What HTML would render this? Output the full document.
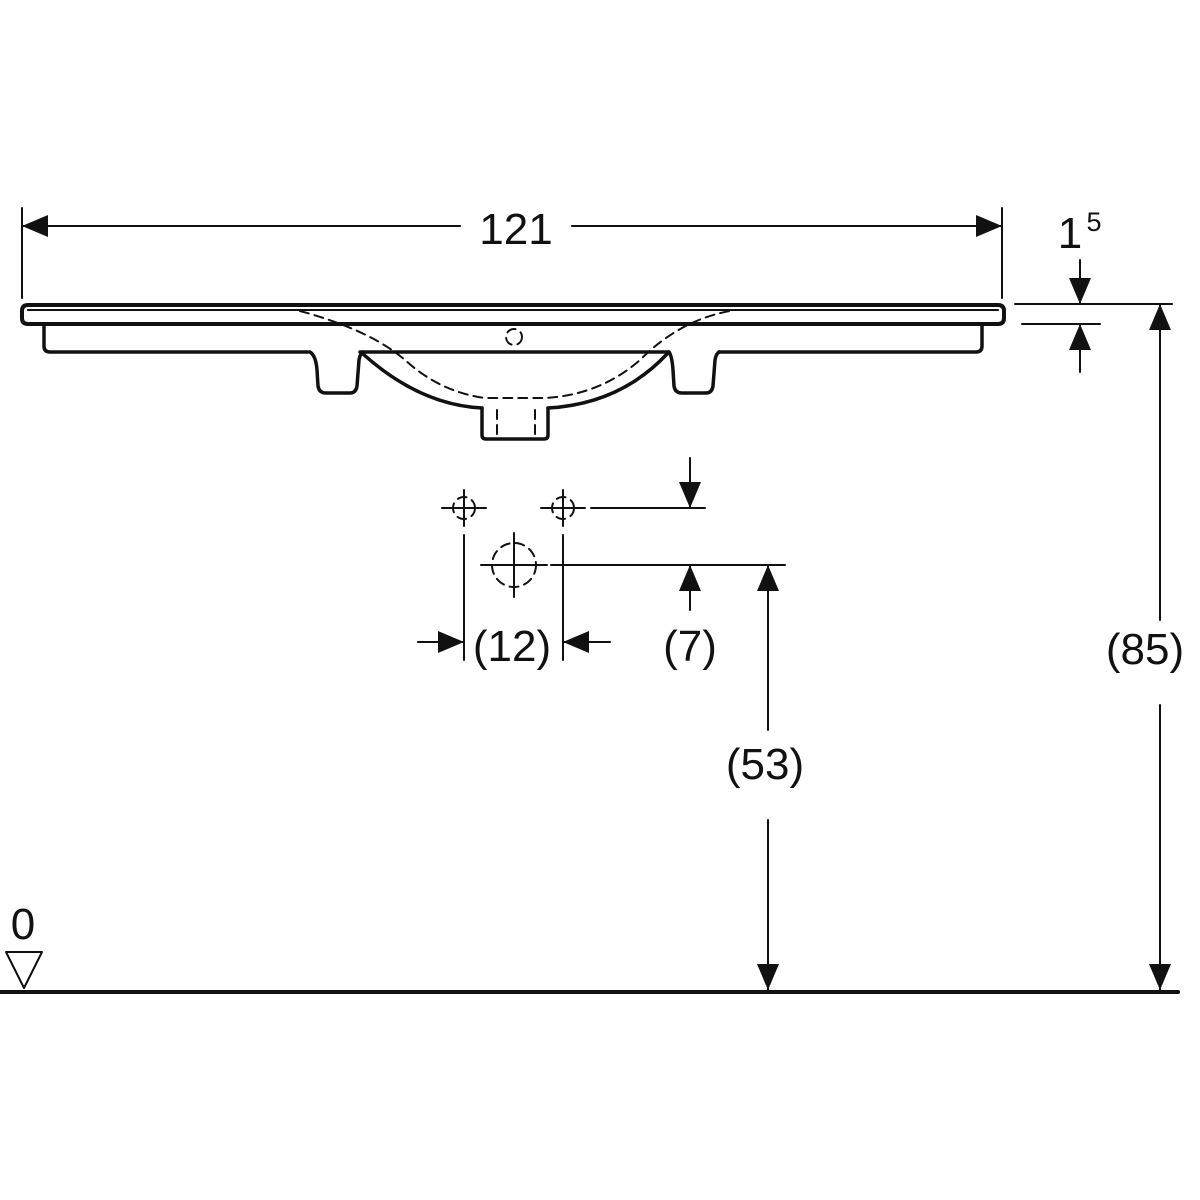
<!DOCTYPE html>
<html><head><style>body{margin:0;background:#fff}svg{display:block}text{font-family:"Liberation Sans",sans-serif;fill:#111}</style></head>
<body>
<svg width="1200" height="1200" viewBox="0 0 1200 1200" xmlns="http://www.w3.org/2000/svg">
<defs>
<marker id="a" viewBox="0 0 26 22" refX="26" refY="11" markerWidth="26" markerHeight="22" markerUnits="userSpaceOnUse" orient="auto"><path d="M0,0L26,11L0,22z" fill="#111"/></marker>
</defs>
<g stroke="#111" fill="none" stroke-linecap="round" stroke-linejoin="round">
<path d="M28,305 H998 Q1004,305 1004,311 V318 Q1004,324 998,324 H28 Q22,324 22,318 V311 Q22,305 28,305 Z" stroke-width="4"/>
<line x1="28" y1="310" x2="998" y2="310" stroke-width="2"/>
<path d="M44,324 V346 Q44,352 50,352 H308" stroke-width="3.5"/>
<path d="M982,324 V346 Q982,352 976,352 H719" stroke-width="3.5"/>
<path d="M360,352 H669" stroke-width="3.5"/>
<path d="M310,352 Q316,356 317,370 L318,386 Q319,393 326,393 H350 Q356,393 357,386 L359,360 Q360,354 363,352" stroke-width="3.5"/>
<path d="M669,352 Q672,356 673,370 L674,386 Q675,393 682,393 H706 Q712,393 713,386 L715,360 Q716,354 719,352" stroke-width="3.5"/>
<path d="M363,354 Q420,405 482,408 M548,408 Q620,404 667,354" stroke-width="3.5"/>
<path d="M482,408 V435 Q482,439 486,439 H544 Q548,439 548,435 V408" stroke-width="3.5"/>
<g stroke-dasharray="9,6" stroke-width="2">
<path d="M300,311 Q370,330 405,360 Q440,392 485,398 H545 Q600,395 640,360 Q680,320 730,311"/>
<line x1="497" y1="410" x2="497" y2="436"/><line x1="535" y1="410" x2="535" y2="436"/>
<circle cx="514" cy="337" r="8"/>
<circle cx="514" cy="565" r="22"/>
<circle cx="464" cy="508" r="11"/><circle cx="563" cy="508" r="11"/>
</g>
<g stroke-width="2">
<line x1="442" y1="508" x2="486" y2="508"/><line x1="464" y1="490" x2="464" y2="526"/>
<line x1="541" y1="508" x2="585" y2="508"/><line x1="563" y1="490" x2="563" y2="526"/>
<line x1="481" y1="565" x2="547" y2="565"/><line x1="514" y1="533" x2="514" y2="597"/>
<line x1="464" y1="535" x2="464" y2="660"/><line x1="563" y1="535" x2="563" y2="660"/>
<line x1="551" y1="565" x2="785" y2="565"/>
<line x1="591" y1="508" x2="705" y2="508"/>
<line x1="690" y1="458" x2="690" y2="508" marker-end="url(#a)"/>
<line x1="690" y1="610" x2="690" y2="565" marker-end="url(#a)"/>
<line x1="418" y1="642" x2="464" y2="642" marker-end="url(#a)"/>
<line x1="610" y1="642" x2="563" y2="642" marker-end="url(#a)"/>
<line x1="768" y1="730" x2="768" y2="565" marker-end="url(#a)"/>
<line x1="768" y1="820" x2="768" y2="990" marker-end="url(#a)"/>
<line x1="22" y1="208" x2="22" y2="298"/><line x1="1002" y1="208" x2="1002" y2="298"/>
<line x1="460" y1="226" x2="22" y2="226" marker-end="url(#a)"/>
<line x1="572" y1="226" x2="1002" y2="226" marker-end="url(#a)"/>
<line x1="1080" y1="260" x2="1080" y2="304" marker-end="url(#a)"/>
<line x1="1080" y1="372" x2="1080" y2="324" marker-end="url(#a)"/>
<line x1="1015" y1="304" x2="1172" y2="304"/>
<line x1="1022" y1="324" x2="1100" y2="324"/>
<line x1="1160" y1="620" x2="1160" y2="304" marker-end="url(#a)"/>
<line x1="1160" y1="705" x2="1160" y2="990" marker-end="url(#a)"/>
<path d="M6,952 H42 L24,988 Z"/>
</g>
<line x1="0" y1="992" x2="1178" y2="992" stroke-width="4"/>
</g>
<g font-size="44" text-anchor="middle">
<text x="516" y="244">121</text>
<text x="1070" y="248">1</text>
<text x="1094" y="231" font-size="27">5</text>
<text x="512" y="661">(12)</text>
<text x="690" y="661">(7)</text>
<text x="765" y="779">(53)</text>
<text x="1145" y="664">(85)</text>
<text x="23" y="939">0</text>
</g>
</svg>
</body></html>
